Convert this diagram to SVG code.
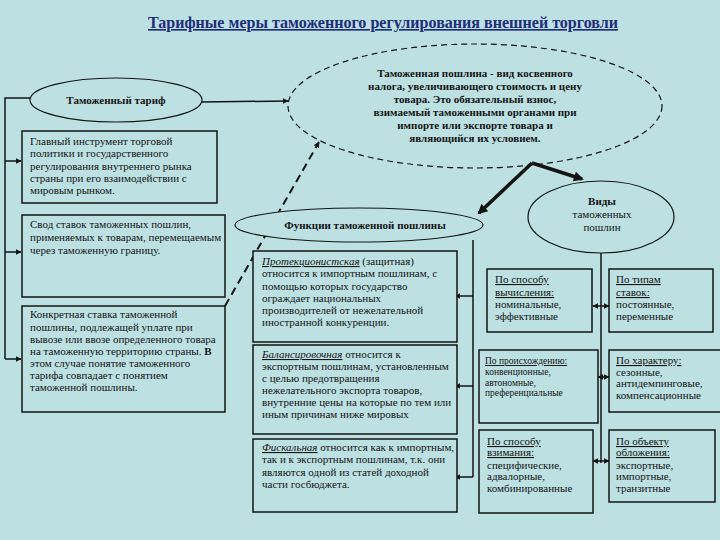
<svg xmlns="http://www.w3.org/2000/svg" width="720" height="540" viewBox="0 0 720 540">
<style>
.bg{fill:#bde0e3}
.box{fill:#bde0e3;stroke:#141414;stroke-width:1.5}
.ell{fill:#bde0e3;stroke:#141414;stroke-width:1.2}
.t{font-family:"Liberation Serif","Times New Roman",serif;font-size:11px;fill:#141414}
.tb{font-family:"Liberation Serif","Times New Roman",serif;font-size:11px;font-weight:bold;fill:#141414}
.ts{font-family:"Liberation Serif","Times New Roman",serif;font-size:9.5px;fill:#141414}
.u{text-decoration:underline}
.iu{text-decoration:underline;font-style:italic}
.ln{fill:none;stroke:#141414;stroke-width:1.5}
.thick{fill:none;stroke:#141414;stroke-width:3.5}
.dash{fill:none;stroke:#141414;stroke-width:2;stroke-dasharray:8 5}
</style>
<defs>
<marker id="ah" viewBox="0 0 10 10" refX="9" refY="5" markerWidth="6" markerHeight="6" orient="auto-start-reverse" markerUnits="userSpaceOnUse">
<path d="M0,0 L10,5 L0,10 z" fill="#141414"/>
</marker>
<marker id="ahb" viewBox="0 0 10 10" refX="8" refY="5" markerWidth="12" markerHeight="10" orient="auto" markerUnits="userSpaceOnUse">
<path d="M0,0 L10,5 L0,10 z" fill="#141414"/>
</marker>
</defs>
<rect class="bg" x="0" y="0" width="720" height="540"/>

<g id="title">
<text x="383" y="28" text-anchor="middle" font-family="'Liberation Serif','Times New Roman',serif" font-size="16.5" font-weight="bold" fill="#1f2d78" text-decoration="underline" textLength="470" lengthAdjust="spacingAndGlyphs">Тарифные меры таможенного регулирования внешней торговли</text>
</g>

<g id="connectors">
<path class="ln" d="M31,98 H5 V359"/>
<line class="ln" x1="5" y1="161" x2="21" y2="161" marker-end="url(#ah)"/>
<line class="ln" x1="5" y1="252" x2="21" y2="252" marker-end="url(#ah)"/>
<line class="ln" x1="5" y1="359" x2="21" y2="359" marker-end="url(#ah)"/>
<line class="ln" x1="202" y1="102" x2="288" y2="101" stroke-width="2" marker-end="url(#ah)"/>
<line class="dash" x1="225" y1="306" x2="319" y2="142" marker-end="url(#ah)"/>
<line class="thick" x1="532" y1="163" x2="479" y2="213" marker-end="url(#ahb)"/>
<line class="thick" x1="532" y1="163" x2="582" y2="179" marker-end="url(#ahb)"/>
<line class="ln" x1="473" y1="240" x2="473" y2="477"/>
<line class="ln" x1="473" y1="296" x2="455" y2="296" marker-end="url(#ah)"/>
<line class="ln" x1="473" y1="386" x2="455" y2="386" marker-end="url(#ah)"/>
<line class="ln" x1="473" y1="477" x2="455" y2="477" marker-end="url(#ah)"/>
<line class="ln" x1="601" y1="253" x2="601" y2="463"/>
<line class="ln" x1="593" y1="306" x2="609" y2="306" marker-start="url(#ah)" marker-end="url(#ah)"/>
<line class="ln" x1="598" y1="377" x2="609" y2="377" marker-start="url(#ah)" marker-end="url(#ah)"/>
<line class="ln" x1="593" y1="461" x2="609" y2="461" marker-start="url(#ah)" marker-end="url(#ah)"/>
</g>

<g id="tariff">
<ellipse class="ell" cx="116" cy="100" rx="86" ry="22"/>
<text class="tb" x="116" y="104" text-anchor="middle">Таможенный тариф</text>
</g>

<g id="box1">
<rect class="box" x="22" y="131" width="195" height="72"/>
<text class="t" x="30" y="145">Главный инструмент торговой</text>
<text class="t" x="30" y="157">политики и государственного</text>
<text class="t" x="30" y="170">регулирования внутреннего рынка</text>
<text class="t" x="30" y="182">страны при его взаимодействии с</text>
<text class="t" x="30" y="194">мировым рынком.</text>
</g>

<g id="box2">
<rect class="box" x="22" y="215" width="203" height="82"/>
<text class="t" x="30" y="228">Свод ставок таможенных пошлин,</text>
<text class="t" x="30" y="241">применяемых к товарам, перемещаемым</text>
<text class="t" x="30" y="254">через таможенную границу.</text>
</g>

<g id="box3">
<rect class="box" x="22" y="306" width="203" height="106"/>
<text class="t" x="30" y="318">Конкретная ставка таможенной</text>
<text class="t" x="30" y="331">пошлины, подлежащей уплате при</text>
<text class="t" x="30" y="343">вывозе или ввозе определенного товара</text>
<text class="t" x="30" y="355">на таможенную территорию страны. <tspan font-weight="bold">В</tspan></text>
<text class="t" x="30" y="367">этом случае понятие таможенного</text>
<text class="t" x="30" y="379">тарифа совпадает с понятием</text>
<text class="t" x="30" y="391">таможенной пошлины.</text>
</g>

<g id="duty">
<ellipse cx="475" cy="106" rx="187" ry="62" fill="none" stroke="#141414" stroke-width="1.2" stroke-dasharray="6 4"/>
<text class="tb" x="475" y="77" text-anchor="middle">Таможенная пошлина - вид косвенного</text>
<text class="tb" x="475" y="90" text-anchor="middle">налога, увеличивающего стоимость и цену</text>
<text class="tb" x="475" y="103" text-anchor="middle">товара. Это обязательный взнос,</text>
<text class="tb" x="475" y="116" text-anchor="middle">взимаемый таможенными органами при</text>
<text class="tb" x="475" y="129" text-anchor="middle">импорте или экспорте товара и</text>
<text class="tb" x="475" y="142" text-anchor="middle">являющийся их условием.</text>
</g>

<g id="functions">
<ellipse class="ell" cx="359" cy="225" rx="124" ry="17"/>
<text class="tb" x="365" y="229" text-anchor="middle">Функции таможенной пошлины</text>
</g>

<g id="types">
<ellipse class="ell" cx="601" cy="217" rx="73" ry="36"/>
<text class="tb" x="602" y="205" text-anchor="middle">Виды</text>
<text class="t" x="602" y="218" text-anchor="middle">таможенных</text>
<text class="t" x="602" y="231" text-anchor="middle">пошлин</text>
</g>

<g id="m1">
<rect class="box" x="253" y="251" width="204" height="91"/>
<text class="t" x="262" y="265"><tspan class="iu">Протекционистская</tspan> (защитная)</text>
<text class="t" x="262" y="277">относится к импортным пошлинам, с</text>
<text class="t" x="262" y="290">помощью которых государство</text>
<text class="t" x="262" y="302">ограждает национальных</text>
<text class="t" x="262" y="314">производителей от нежелательной</text>
<text class="t" x="262" y="326">иностранной конкуренции.</text>
</g>

<g id="m2">
<rect class="box" x="253" y="345" width="204" height="89"/>
<text class="t" x="262" y="358"><tspan class="iu">Балансировочная</tspan> относится к</text>
<text class="t" x="262" y="370">экспортным пошлинам, установленным</text>
<text class="t" x="262" y="382">с целью предотвращения</text>
<text class="t" x="262" y="394">нежелательного экспорта товаров,</text>
<text class="t" x="262" y="406">внутренние цены на которые по тем или</text>
<text class="t" x="262" y="418">иным причинам ниже мировых</text>
</g>

<g id="m3">
<rect class="box" x="253" y="439" width="204" height="73"/>
<text class="t" x="262" y="451"><tspan class="iu">Фискальная</tspan> относится как к импортным,</text>
<text class="t" x="262" y="463">так и к экспортным пошлинам, т.к. они</text>
<text class="t" x="262" y="476">являются одной из статей доходной</text>
<text class="t" x="262" y="488">части госбюджета.</text>
</g>

<g id="r1">
<rect class="box" x="487" y="269" width="105" height="63"/>
<text class="t" x="495" y="283"><tspan class="u">По способу</tspan></text>
<text class="t" x="495" y="296"><tspan class="u"> вычисления:</tspan></text>
<text class="t" x="495" y="308">номинальные,</text>
<text class="t" x="495" y="320">эффективные</text>
</g>

<g id="r2">
<rect class="box" x="609" y="269" width="104" height="63"/>
<text class="t" x="616" y="283"><tspan class="u">По типам</tspan></text>
<text class="t" x="616" y="296"><tspan class="u">ставок:</tspan></text>
<text class="t" x="616" y="308">постоянные,</text>
<text class="t" x="616" y="320">переменные</text>
</g>

<g id="r3">
<rect class="box" x="479" y="350" width="119" height="73"/>
<text class="ts" x="485" y="364"><tspan class="u">По происхождению:</tspan></text>
<text class="ts" x="485" y="375">конвенционные,</text>
<text class="ts" x="485" y="386">автономные,</text>
<text class="ts" x="485" y="396">преференциальные</text>
</g>

<g id="r4">
<rect class="box" x="609" y="350" width="113" height="62"/>
<text class="t" x="616" y="364"><tspan class="u">По характеру:</tspan></text>
<text class="t" x="616" y="376">сезонные,</text>
<text class="t" x="616" y="387">антидемпинговые,</text>
<text class="t" x="616" y="399">компенсационные</text>
</g>

<g id="r5">
<rect class="box" x="479" y="430" width="114" height="83"/>
<text class="t" x="487" y="445"><tspan class="u">По способу</tspan></text>
<text class="t" x="487" y="456"><tspan class="u">взимания:</tspan></text>
<text class="t" x="487" y="469">специфические,</text>
<text class="t" x="487" y="480">адвалорные,</text>
<text class="t" x="487" y="492">комбинированные</text>
</g>

<g id="r6">
<rect class="box" x="609" y="430" width="106" height="72"/>
<text class="t" x="616" y="445"><tspan class="u">По объекту</tspan></text>
<text class="t" x="616" y="456"><tspan class="u">обложения:</tspan></text>
<text class="t" x="616" y="469">экспортные,</text>
<text class="t" x="616" y="480">импортные,</text>
<text class="t" x="616" y="492">транзитные</text>
</g>
</svg>
